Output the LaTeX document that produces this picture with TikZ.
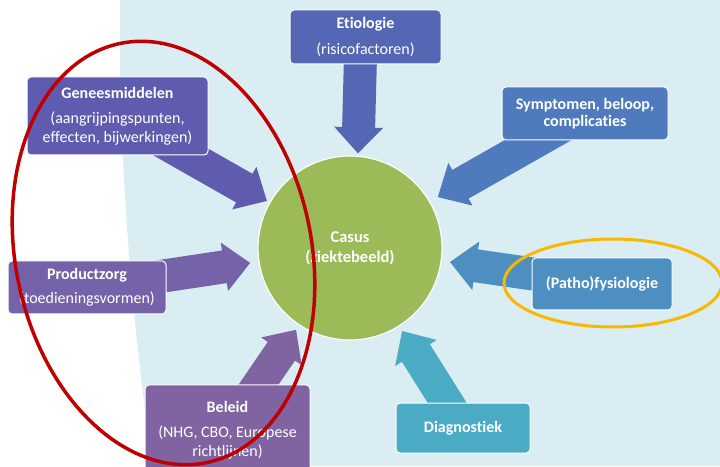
\documentclass[tikz,border=0pt]{standalone}
\usepackage{fontspec}
\setmainfont{Carlito}[Ligatures=NoCommon]
\usetikzlibrary{calc}
\pgfdeclarelayer{bg}
\pgfdeclarelayer{arr}
\pgfdeclarelayer{marks}
\pgfsetlayers{bg,arr,main,marks}
\definecolor{bgblue}{HTML}{DAEDF2}
\definecolor{cGen}{HTML}{5F5BAE}
\definecolor{cEtio}{HTML}{5566B5}
\definecolor{cSymp}{HTML}{4F7BBE}
\definecolor{cPatho}{HTML}{4E8FC2}
\definecolor{cDiag}{HTML}{4BABC5}
\definecolor{cBel}{HTML}{8064A2}
\definecolor{cProd}{HTML}{7562A8}
\definecolor{cCasus}{HTML}{9BBB59}
\definecolor{cRed}{HTML}{C00000}
\definecolor{cYel}{HTML}{F8B800}
\newcommand\sw{16.5pt}
\newcommand\hw{24.5pt}
\newcommand\hl{26pt}
\newcommand\blockarrow[3]{%
  \coordinate (hb) at ($(#3)!\hl!(#2)$);
  \fill[#1] ($(#2)!\sw!90:(#3)$) -- ($(hb)!\sw!90:(#3)$) -- ($(hb)!\hw!90:(#3)$) -- (#3)
    -- ($(hb)!\hw!-90:(#3)$) -- ($(hb)!\sw!-90:(#3)$) -- ($(#2)!\sw!-90:(#3)$) -- cycle;}
\tikzset{
  box/.style={rounded corners=4pt, draw=white, line width=1pt, text=white, align=center,
    inner sep=0pt, font=\fontsize{16}{18.5}\selectfont},
  ring/.style={line width=3.5pt}
}
\begin{document}
\begin{tikzpicture}[x=1pt,y=1pt]
\useasboundingbox (0,0) rectangle (720,466);
\begin{pgfonlayer}{bg}
  \fill[white] (0,0) rectangle (720,466);
  \fill[bgblue] (120,466) .. controls (118,330) and (130,150) .. (153,0) -- (720,0) -- (720,466) -- cycle;
\end{pgfonlayer}

\node[circle, fill=cCasus, draw=white, line width=1.2pt, minimum size=184pt, inner sep=0pt,
  text=white, align=center, font=\fontsize{16.5}{20}\selectfont\bfseries] (casus) at (350,218)
  {Casus\\(ziektebeeld)};

\node[box, fill=cGen, minimum width=181pt, minimum height=78pt] (gen) at (117.5,350)
  {\textbf{Geneesmiddelen}\\[7pt](aangrijpingspunten,\\effecten, bijwerkingen)};
\node[box, fill=cEtio, minimum width=151pt, minimum height=54pt] (etio) at (365.5,429)
  {\textbf{Etiologie}\\[7pt](risicofactoren)};
\node[box, fill=cSymp, minimum width=166pt, minimum height=53pt] (symp) at (585,352.5)
  {\textbf{Symptomen, beloop,}\\[-1.5pt]\textbf{complicaties}};
\node[box, fill=cPatho, minimum width=140pt, minimum height=52pt] (patho) at (602,182)
  {\textbf{(Patho)fysiologie}};
\node[box, fill=cDiag, minimum width=134pt, minimum height=50pt] (diag) at (463,38)
  {\textbf{Diagnostiek}};
\node[box, fill=cBel, minimum width=165pt, minimum height=90pt] (bel) at (227.5,36)
  {\textbf{Beleid}\\[7pt](NHG, CBO, Europese\\richtlijnen)};
\node[box, fill=cProd, minimum width=158pt, minimum height=53pt] (prod) at (87,178.5)
  {\textbf{Productzorg}\\[6pt](toedieningsvormen)};

\coordinate (tEtio) at ($(casus.center)+(85.2:95pt)$);
\coordinate (tSymp) at ($(casus.center)+(30.1:101.5pt)$);
\coordinate (tPatho) at ($(casus.center)+(-8:101pt)$);
\coordinate (tDiag) at ($(casus.center)+(-57.9:98pt)$);
\coordinate (tBel) at ($(casus.center)+(236.6:98pt)$);
\coordinate (tProd) at ($(casus.center)+(188.5:101pt)$);
\coordinate (tGen) at ($(casus.center)+(150.5:95.5pt)$);
\coordinate (sEtio) at ([xshift=-4.5pt]etio.center);

\begin{pgfonlayer}{arr}
  \blockarrow{cEtio}{sEtio}{tEtio}
  \blockarrow{cSymp}{symp.center}{tSymp}
  \blockarrow{cPatho}{patho.center}{tPatho}
  \blockarrow{cDiag}{diag.center}{tDiag}
  \blockarrow{cBel}{bel.center}{tBel}
  \blockarrow{cProd}{prod.center}{tProd}
  \blockarrow{cGen}{gen.center}{tGen}
\end{pgfonlayer}

\begin{pgfonlayer}{marks}
  \draw[ring, cRed, rotate around={11.7:(163.5,213)}] (163.5,213) ellipse [x radius=148, y radius=214];
  \draw[ring, cYel, line width=3pt] (613,183) ellipse [x radius=109, y radius=44];
\end{pgfonlayer}
\end{tikzpicture}
\end{document}
